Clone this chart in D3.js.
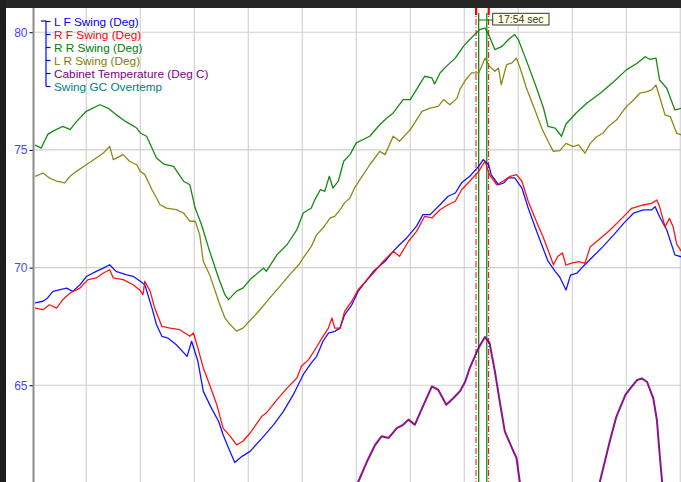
<!DOCTYPE html>
<html>
<head>
<meta charset="utf-8">
<script src="https://cdn.jsdelivr.net/npm/d3@7"></script>
<style>
  html, body { margin: 0; padding: 0; background: #fff; }
  svg { display: block; font-family: "Liberation Sans", Arial, sans-serif; }
</style>
</head>
<body>
<svg id="chart" width="681" height="482"></svg>
<script>
// Swing angles and cabinet temperature over a 12-minute window.
// Samples are [seconds from window start, degrees].

const seriesNames = [
  "L F Swing (Deg)",
  "R F Swing (Deg)",
  "R R Swing (Deg)",
  "L R Swing (Deg)",
  "Cabinet Temperature (Deg C)",
  "Swing GC Overtemp"
];
const seriesColors = ["#0000ff", "#ff0000", "#008000", "#808000", "#800080", "#008080"];

const yTicks = [65, 70, 75, 80];
const windowStartSec = 574;          // clock time of the left edge, seconds
const gridStepSec = 60;

const lfSwing = [
  [3,68.5],[12,68.57],[17,68.71],[23,68.99],[38,69.13],[45,68.99],[53,69.27],[60,69.62],
  [71,69.84],[79,69.98],[86,70.12],[93,69.84],[104,69.7],[112,69.63],[120,69.42],[125,69.27],
  [133,68.28],[138,67.57],[144,67.08],[151,67.0],[160,66.72],[172,66.23],[177,66.87],[184,66.02],
  [190,64.74],[199,64.03],[207,63.47],[212,62.9],[218,62.33],[225,61.72],[233,61.98],[242,62.19],
  [257,62.83],[268,63.32],[279,63.89],[290,64.6],[301,65.45],[310,65.95],[316,66.23],[323,66.87],
  [329,67.22],[336,67.29],[342,67.43],[347,67.99],[355,68.42],[362,68.99],[379,69.84],[392,70.27],
  [401,70.69],[408,70.97],[416,71.26],[427,71.76],[434,72.25],[442,72.25],[453,72.67],[462,73.03],
  [470,73.17],[477,73.6],[486,73.88],[496,74.3],[501,74.59],[507,74.37],[510,73.94],[518,73.52],
  [524,73.6],[529,73.81],[536,73.81],[544,73.38],[551,72.53],[559,71.68],[566,70.97],[573,70.27],
  [581,69.84],[586,69.6],[593,69.05],[598,69.68],[605,69.76],[612,70.05],[623,70.47],[634,70.89],
  [646,71.39],[657,71.88],[668,72.31],[679,72.45],[688,72.45],[692,72.59],[697,72.16],[705,71.6],
  [714,70.54],[721,70.46]
];

const rfSwing = [
  [3,68.28],[12,68.21],[19,68.42],[27,68.28],[34,68.64],[42,68.92],[53,69.13],[62,69.49],
  [71,69.56],[79,69.77],[86,69.91],[90,69.56],[101,69.49],[112,69.27],[119,69.06],[123,68.85],
  [125,69.42],[131,68.99],[136,68.28],[144,67.5],[153,67.43],[164,67.36],[175,67.08],[179,67.22],
  [184,66.58],[190,65.73],[197,65.02],[205,64.17],[212,63.18],[220,62.83],[227,62.47],[234,62.62],
  [242,62.97],[255,63.68],[260,63.82],[272,64.39],[283,64.88],[294,65.31],[299,65.81],[307,66.09],
  [314,66.51],[322,67.01],[329,67.43],[333,67.86],[336,67.43],[342,67.43],[347,68.14],[355,68.57],
  [362,69.06],[379,69.77],[390,70.27],[401,70.69],[408,70.48],[418,71.12],[427,71.54],[436,72.18],
  [444,72.11],[453,72.46],[462,72.67],[470,72.82],[477,73.31],[486,73.67],[496,74.09],[503,74.52],
  [508,73.95],[516,73.52],[523,73.67],[531,73.88],[538,73.95],[544,73.67],[551,72.82],[560,71.97],
  [568,71.26],[575,70.55],[579,70.12],[584,70.48],[589,70.62],[593,70.1],[598,70.18],[607,70.25],
  [614,70.18],[620,70.89],[629,71.17],[642,71.6],[655,72.09],[666,72.52],[679,72.66],[688,72.73],
  [694,72.87],[697,72.59],[703,71.74],[708,72.09],[712,71.74],[716,71.0],[721,70.7]
];

const rrSwing = [
  [3,75.2],[10,75.08],[17,75.65],[23,75.8],[34,76.0],[42,75.86],[49,76.2],[60,76.64],
  [75,76.92],[84,76.78],[93,76.5],[104,76.2],[116,75.93],[120,75.72],[127,75.58],[138,74.66],
  [146,74.4],[157,74.3],[168,73.67],[175,73.52],[181,72.53],[188,71.82],[197,70.7],[207,69.56],
  [214,68.85],[218,68.64],[227,69.0],[234,69.13],[242,69.49],[257,69.98],[260,69.84],[272,70.55],
  [283,70.97],[294,71.61],[301,72.32],[310,72.53],[314,72.89],[320,73.31],[325,73.24],[330,73.88],
  [334,73.38],[340,73.67],[346,74.52],[353,74.8],[360,75.3],[375,75.58],[386,76.07],[394,76.36],
  [401,76.57],[412,77.14],[420,77.14],[429,77.7],[436,78.13],[444,78.06],[447,77.8],[453,78.27],
  [460,78.55],[470,78.9],[479,79.4],[486,79.69],[497,80.11],[503,80.18],[507,79.9],[514,79.26],
  [522,79.4],[529,79.69],[536,79.9],[540,79.69],[548,78.9],[559,77.77],[568,76.78],[573,76.0],
  [581,75.93],[588,75.58],[593,76.1],[604,76.56],[616,76.98],[631,77.41],[646,77.9],[660,78.4],
  [672,78.68],[681,78.96],[686,78.85],[693,78.9],[697,77.97],[705,77.62],[714,76.7],[721,76.77]
];

const lrSwing = [
  [3,73.88],[12,74.02],[19,73.81],[27,73.67],[36,73.6],[42,73.88],[49,74.09],[60,74.37],
  [71,74.66],[79,74.87],[86,75.15],[90,74.59],[101,74.8],[108,74.52],[116,74.37],[120,74.09],
  [125,73.95],[133,73.31],[142,72.67],[149,72.53],[160,72.46],[168,72.32],[175,71.97],[181,71.97],
  [186,71.4],[190,70.27],[197,69.7],[207,68.57],[214,67.86],[220,67.57],[227,67.3],[234,67.43],
  [242,67.75],[253,68.21],[264,68.71],[275,69.2],[286,69.7],[296,70.12],[301,70.41],[310,70.9],
  [316,71.4],[323,71.68],[331,72.11],[336,72.18],[342,72.46],[347,72.75],[353,72.96],[358,73.38],
  [364,73.74],[375,74.37],[386,74.94],[392,74.8],[401,75.58],[408,75.37],[420,75.86],[433,76.64],
  [442,76.78],[451,76.85],[457,77.14],[464,76.92],[472,77.2],[475,77.56],[481,77.95],[488,78.27],
  [496,78.27],[503,78.9],[508,78.55],[514,78.34],[518,78.48],[521,77.77],[527,78.62],[533,78.7],
  [538,78.9],[542,78.48],[549,77.63],[559,76.64],[566,75.93],[573,75.37],[579,74.94],[586,74.97],
  [593,75.28],[601,75.14],[607,75.21],[614,74.86],[620,75.28],[627,75.56],[634,75.71],[640,75.99],
  [649,76.27],[660,76.84],[668,77.12],[675,77.41],[683,77.48],[688,77.55],[693,77.76],[697,77.26],
  [703,76.49],[709,76.41],[716,75.71],[721,75.64]
];

// Cabinet temperature dips below the visible range between the two humps (null = gap).
const cabinetTemp = [
  [361,60.8],[364,61.06],[372,61.77],[381,62.47],[388,62.83],[396,62.76],[405,63.18],[412,63.32],
  [418,63.54],[425,63.32],[434,64.1],[444,64.95],[451,64.81],[460,64.17],[468,64.46],[475,64.74],
  [481,65.15],[486,65.73],[496,66.6],[503,67.05],[508,66.8],[514,65.59],[520,64.17],[525,63.04],
  [533,62.33],[538,61.91],[542,60.8],
  [580,null],
  [630,60.8],[642,62.67],[649,63.67],[659,64.59],[666,64.94],[672,65.22],[677,65.29],[683,65.15],
  [690,64.44],[694,63.52],[697,62.1],[700,60.8]
];

// Cursor pair (green) and its bounding markers (red), seconds from window start.
const cursorSec = [496, 505];
const markerSec = [493, 507];

const seriesData = [lfSwing, rfSwing, rrSwing, lrSwing, cabinetTemp];

const W = 681, H = 482;
const svg = d3.select("#chart");

const x = d3.scaleLinear().domain([0, 720]).range([32.3, 680.3]);
const y = d3.scaleLinear().domain([60.89, 81.03]).range([482, 8]);

// background and plot clip
svg.append("rect").attr("width", W).attr("height", H).attr("fill", "#ffffff");

svg.append("defs").append("clipPath").attr("id", "plotClip")
  .append("rect").attr("x", 34).attr("y", 8).attr("width", W - 34).attr("height", H - 8);

// grid
const grid = svg.append("g");
grid.selectAll("line.v").data(d3.range(gridStepSec, 721, gridStepSec)).join("line")
  .attr("x1", d => x(d)).attr("x2", d => x(d))
  .attr("y1", 8).attr("y2", H)
  .attr("stroke", "#d4d4d4").attr("stroke-width", 1.2);
grid.selectAll("line.h").data(yTicks).join("line")
  .attr("x1", 34).attr("x2", W)
  .attr("y1", d => y(d)).attr("y2", d => y(d))
  .attr("stroke", "#cfcfcf").attr("stroke-width", 1.2);

// y axis
const yAxis = d3.axisLeft(y).tickValues(yTicks).tickSize(4).tickPadding(2);
const axisG = svg.append("g").attr("transform", "translate(33.5,0)").call(yAxis);
axisG.select(".domain").remove();
axisG.selectAll(".tick line").attr("stroke", "#000").attr("stroke-width", 1);
axisG.selectAll(".tick text")
  .attr("fill", "#4646ff")
  .style("font-size", "12px")
  .style("font-family", "'Liberation Sans', Arial, sans-serif");
svg.append("line").attr("x1", 33.5).attr("x2", 33.5).attr("y1", 8).attr("y2", H)
  .attr("stroke", "#8c8c8c").attr("stroke-width", 2);

// cursor markers
const cur = svg.append("g").attr("clip-path", "url(#plotClip)");
cur.selectAll("line.marker").data(markerSec).join("line")
  .attr("x1", d => x(d)).attr("x2", d => x(d))
  .attr("y1", 8).attr("y2", H)
  .attr("stroke", "#ff0000").attr("stroke-width", 1)
  .attr("stroke-dasharray", "6,2,1,2");
cur.selectAll("rect.handle").data(markerSec).join("rect")
  .attr("x", d => x(d) - 1).attr("y", 8).attr("width", 2.2).attr("height", 7)
  .attr("fill", "#ff0000");
cur.selectAll("line.cursor").data(cursorSec).join("line")
  .attr("x1", d => x(d)).attr("x2", d => x(d))
  .attr("y1", 13).attr("y2", H)
  .attr("stroke", "#008000").attr("stroke-width", 1.2);

// series lines
const line = d3.line()
  .defined(d => d[1] !== null)
  .x(d => x(d[0])).y(d => y(d[1]));

const plot = svg.append("g").attr("clip-path", "url(#plotClip)");
seriesData.forEach((data, i) => {
  plot.append("path")
    .datum(data)
    .attr("d", line)
    .attr("fill", "none")
    .attr("stroke", seriesColors[i])
    .attr("stroke-width", i === 4 ? 2 : 1.3)
    .attr("stroke-linejoin", "round")
    .attr("opacity", 0.92);
});

// cursor readout
const cursorMid = (cursorSec[0] + cursorSec[1]) / 2;
const clock = Math.floor(windowStartSec + cursorMid);
const readout = `${Math.floor(clock / 60)}:${String(clock % 60).padStart(2, "0")} sec`;
const boxX = 492.7, boxY = 13.3, boxW = 56.3, boxH = 11.7;
svg.append("line")
  .attr("x1", x(cursorSec[0])).attr("x2", boxX)
  .attr("y1", 20).attr("y2", 20)
  .attr("stroke", "#008000").attr("stroke-width", 1);
svg.append("rect")
  .attr("x", boxX).attr("y", boxY).attr("width", boxW).attr("height", boxH)
  .attr("fill", "#ffffe1").attr("stroke", "#333").attr("stroke-width", 1);
svg.append("text")
  .attr("x", boxX + boxW / 2).attr("y", boxY + boxH - 2)
  .attr("text-anchor", "middle")
  .attr("fill", "#333")
  .style("font-size", "10.5px")
  .text(readout);

// legend
const legendX = 54, legendY0 = 26, legendStep = 13;
const lg = svg.append("g");
const bracketX = 46;
lg.append("line").attr("x1", bracketX).attr("x2", bracketX)
  .attr("y1", legendY0 - 5).attr("y2", legendY0 - 4.5 + legendStep * (seriesNames.length - 1))
  .attr("stroke", "#0000ff").attr("stroke-width", 1.2);
lg.append("line").attr("x1", 41).attr("x2", bracketX)
  .attr("y1", legendY0 - 5).attr("y2", legendY0 - 5)
  .attr("stroke", "#0000ff").attr("stroke-width", 1.2);
lg.selectAll("line.tick").data(seriesNames).join("line")
  .attr("x1", bracketX).attr("x2", 50.5)
  .attr("y1", (d, i) => legendY0 - 4.5 + i * legendStep)
  .attr("y2", (d, i) => legendY0 - 4.5 + i * legendStep)
  .attr("stroke", "#0000ff").attr("stroke-width", 1.2);
lg.selectAll("text").data(seriesNames).join("text")
  .attr("x", legendX)
  .attr("y", (d, i) => legendY0 + i * legendStep)
  .attr("fill", (d, i) => seriesColors[i])
  .style("font-size", "11.8px")
  .text(d => d);

// dark frame strips
svg.append("rect").attr("x", 0).attr("y", 0).attr("width", W).attr("height", 8).attr("fill", "#262626");
svg.append("rect").attr("x", 0).attr("y", 0).attr("width", 6).attr("height", H).attr("fill", "#1f1f1f");
</script>
</body>
</html>
